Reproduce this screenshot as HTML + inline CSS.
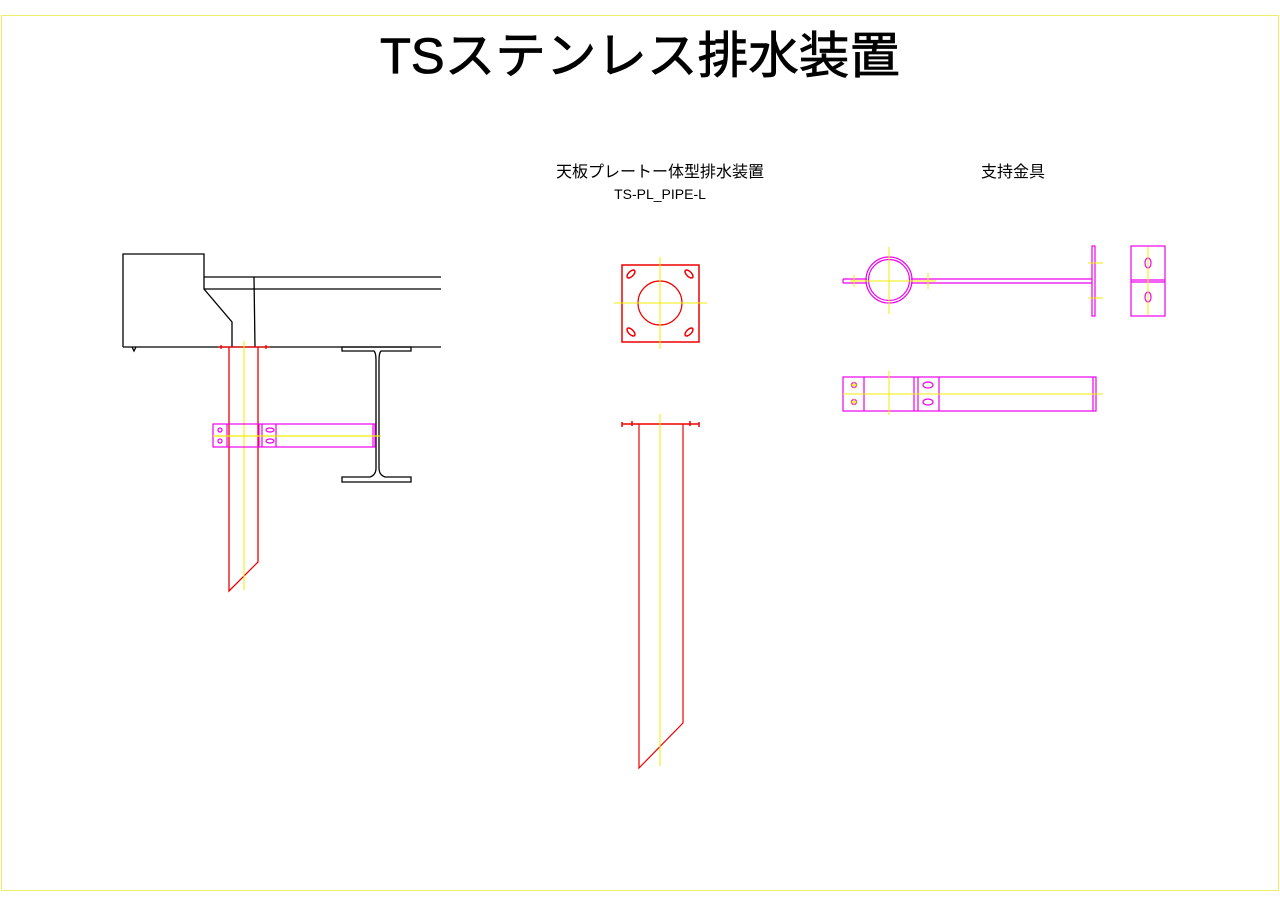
<!DOCTYPE html>
<html><head><meta charset="utf-8"><style>
html,body{margin:0;padding:0;background:#fff;}
svg{display:block;}
text{font-family:"Liberation Sans","Noto Sans CJK JP",sans-serif;}
</style></head><body>
<svg width="1280" height="905" viewBox="0 0 1280 905" xmlns="http://www.w3.org/2000/svg">
<rect x="1.5" y="15.5" width="1277" height="875" fill="none" stroke="#eeee66" stroke-width="1"/>
<text x="640" y="73" font-size="50" text-anchor="middle" textLength="520" lengthAdjust="spacingAndGlyphs" stroke="#000" stroke-width="0.8">TSステンレス排水装置</text>
<text x="660" y="177" font-size="16" text-anchor="middle">天板プレートー体型排水装置</text>
<text x="660" y="199" font-size="14" text-anchor="middle" font-family="Liberation Mono, monospace">TS-PL_PIPE-L</text>
<text x="1013" y="177" font-size="16" text-anchor="middle">支持金具</text>

<!-- left drawing -->
<g fill="none" stroke="#000" stroke-width="1.3">
<path d="M123,347 V254 H204 V289 L232,322 V347"/>
<path d="M204,277 H441 M204,289 H441 M254,277 L255,347 M123,347 H441"/>
<path d="M132,347 L134,351 L136,347"/>
<path d="M342,347 H411 V351 H381 Q379,353 379,360 V468 Q379,475 385,477 H411 V482 H342 V477 H370 Q376,475 376,468 V360 Q376,353 374,351 H342 Z"/>
</g>
<g fill="none" stroke="#e00" stroke-width="1.3">
<path d="M218,347 H270"/>
<path d="M229,347 V591 L258,562 V347"/>
<path d="M221,345 v4 M266,345 v4"/>
</g>
<line x1="244" y1="341" x2="244" y2="590" stroke="#ee0" stroke-width="1"/>
<g fill="none" stroke="#e0e" stroke-width="1.2">
<rect x="213" y="424" width="162" height="23"/>
<path d="M227,424 V447 M259,424 V447 M262,424 V447 M276,424 V447 M373,424 V447"/>
<ellipse cx="270" cy="430" rx="4" ry="2"/><ellipse cx="270" cy="441" rx="4" ry="2"/>
<circle cx="220" cy="430" r="2"/><circle cx="220" cy="441" r="2"/>
</g>
<line x1="213" y1="436" x2="381" y2="436" stroke="#ee0" stroke-width="1.2"/>

<!-- middle -->
<g fill="none" stroke="#e00" stroke-width="1.5">
<rect x="622" y="265" width="77" height="77"/>
<circle cx="660" cy="303" r="22" stroke-width="1.2"/>
<ellipse cx="631" cy="274" rx="5" ry="2.5" transform="rotate(-45 631 274)"/>
<ellipse cx="689" cy="274" rx="5" ry="2.5" transform="rotate(45 689 274)"/>
<ellipse cx="631" cy="332" rx="5" ry="2.5" transform="rotate(45 631 332)"/>
<ellipse cx="689" cy="332" rx="5" ry="2.5" transform="rotate(-45 689 332)"/>
<path d="M622,424 H699 M622,422 v5 M699,422 v5 M632,421 v5 M690,421 v5"/>
<path d="M639,424 V768 L683,723 V424" stroke-width="1.2"/>
</g>
<g stroke="#ee0" stroke-width="1">
<path d="M660,257 V349 M614,303 H707 M660,414 V766"/>
</g>

<!-- right -->
<g fill="none" stroke="#e0e" stroke-width="1.2">
<circle cx="889" cy="280" r="23"/>
<circle cx="889" cy="280" r="20.5"/>
<path d="M843,279 H867 M843,283 H867 M843,279 V283 M911,279 H1092 M911,283 H1092"/>
<rect x="1092" y="246" width="3" height="70"/>
<rect x="1131" y="246" width="34" height="70"/>
<path d="M1131,280 H1165 M1131,282 H1165"/>
<ellipse cx="1148" cy="263" rx="3" ry="5"/><ellipse cx="1148" cy="297" rx="3" ry="5"/>
<rect x="843" y="377" width="253" height="34"/>
<path d="M864,377 V411 M914,377 V411 M918,377 V411 M939,377 V411 M1093,377 V411"/>
<ellipse cx="928" cy="385" rx="5" ry="3"/><ellipse cx="928" cy="402" rx="5" ry="3"/>
<circle cx="854" cy="385" r="2.5"/><circle cx="854" cy="402" r="2.5"/>
</g>
<g stroke="#ee0" stroke-width="1">
<path d="M889,247 V314 M850,281 H936 M854,275 V287 M928,273 V289 M1088,263 H1103 M1088,298 H1103 M1148,247 V315"/>
<path d="M843,394 H1103 M889,371 V415 M850,385 H858 M850,402 H858 M854,381 V389 M854,398 V406"/>
</g>
</svg>
</body></html>
